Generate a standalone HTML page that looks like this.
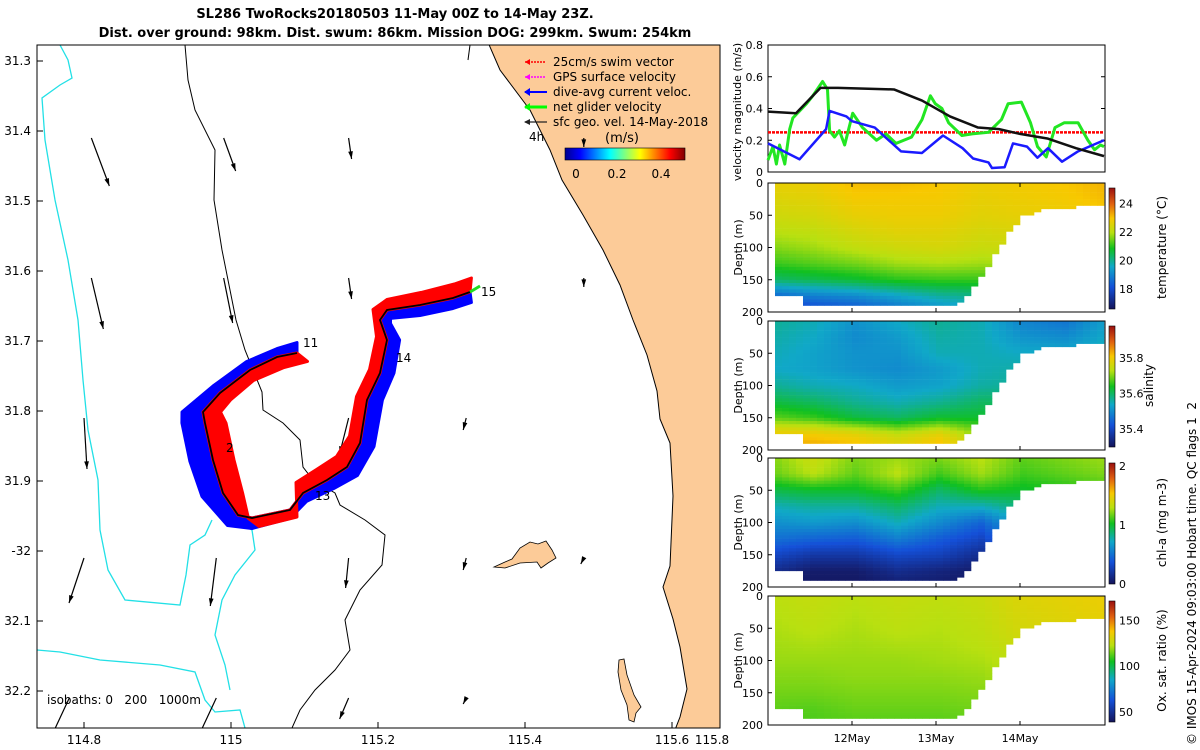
<!DOCTYPE html>
<html><head><meta charset="utf-8"><title>SL286 TwoRocks</title>
<style>
html,body{margin:0;padding:0;background:#fff;}
svg{display:block;font-family:"DejaVu Sans","Liberation Sans",sans-serif;}
</style></head>
<body>
<svg id="fig" width="1200" height="750" viewBox="0 0 1200 750" xmlns="http://www.w3.org/2000/svg">
<defs>
<linearGradient id="jetH" x1="0" x2="1" y1="0" y2="0">
<stop offset="0" stop-color="#00008f"/><stop offset="0.125" stop-color="#0000ff"/><stop offset="0.375" stop-color="#00ffff"/><stop offset="0.625" stop-color="#ffff00"/><stop offset="0.875" stop-color="#ff0000"/><stop offset="1" stop-color="#800000"/>
</linearGradient>
<linearGradient id="cmV" x1="0" x2="0" y1="1" y2="0">
<stop offset="0" stop-color="#14145a"/><stop offset="0.18" stop-color="#1450d8"/><stop offset="0.35" stop-color="#10a8c8"/><stop offset="0.5" stop-color="#10c020"/><stop offset="0.63" stop-color="#b8e010"/><stop offset="0.75" stop-color="#f8c800"/><stop offset="0.87" stop-color="#e06010"/><stop offset="1" stop-color="#9a1010"/>
</linearGradient>
<clipPath id="mapclip"><rect x="37" y="45" width="683" height="683"/></clipPath>
</defs>

<text x="395" y="18" text-anchor="middle" font-size="13" font-weight="bold">SL286 TwoRocks20180503 11-May 00Z to 14-May 23Z.</text>
<text x="395" y="37" text-anchor="middle" font-size="13" font-weight="bold">Dist. over ground: 98km. Dist. swum: 86km. Mission DOG: 299km. Swum: 254km</text>

<g id="map">
<g clip-path="url(#mapclip)">
<path fill="#fccb98" stroke="#000" stroke-width="1" d="M487,40 L500,70 L530,110 L550,150 L562,180 L583,215 L603,250 L620,285 L633,320 L647,355 L657,391 L660,419 L670,443 L673,496 L670,566 L663,587 L673,619 L680,647 L687,689 L680,717 L673,735 L730,735 L730,40 Z"/>
<path fill="#fccb98" stroke="#000" stroke-width="0.8" d="M494,567 L505,562 L512,559 L520,548 L530,542 L538,544 L546,541 L552,550 L556,558 L548,563 L541,568 L537,562 L520,563 L505,568 Z"/>
<path fill="#fccb98" stroke="#000" stroke-width="0.8" d="M619,660 L624,659 L627,675 L634,695 L641,707 L636,713 L634,722 L629,720 L627,705 L621,690 L618,672 Z"/>
<path fill="none" stroke="#22e0e6" stroke-width="1.3" d="M60,45 L68,60 L72,78 L60,85 L42,98 L45,140 L55,200 L68,260 L78,320 L83,380 L88,430 L98,480 L100,530 L108,570 L125,600 L180,605 L186,575 L190,545 L205,535 L212,520"/>
<path fill="none" stroke="#22e0e6" stroke-width="1.3" d="M37,650 L60,652 L100,660 L160,665 L195,672 L205,700 L215,712 L240,710 L245,728"/>
<path fill="none" stroke="#22e0e6" stroke-width="1.3" d="M238,522 L252,530 L255,550 L235,575 L222,600 L215,635 L225,665 L230,690"/>
<path fill="none" stroke="#000" stroke-width="1" d="M185,45 L188,80 L195,110 L215,150 L214,200 L222,250 L232,300 L236,320 L245,350 L262,392 L263,410 L283,423 L300,440 L303,467 L313,480 L335,493 L340,505 L365,520 L385,535 L382,565 L360,590 L345,620 L350,650 L335,670 L315,690 L300,710 L292,728"/>
<path fill="none" stroke="#000" stroke-width="1" d="M470,45 L468,60"/>
<g id="geoArrows"></g>
<g id="track"></g>
</g>
<rect x="37" y="45" width="683" height="683" fill="none" stroke="#000" stroke-width="1"/>
<g id="mapTicks" font-size="12"></g>
<text x="303" y="347" font-size="12">11</text>
<text x="396" y="362" font-size="12">14</text>
<text x="315" y="500" font-size="12">13</text>
<text x="481" y="296" font-size="12">15</text>
<text x="226" y="452" font-size="12">2</text>
<text x="529" y="141" font-size="12">4h</text>
<text x="47" y="704" font-size="12" xml:space="preserve">isobaths: 0   200   1000m</text>
<g id="mapLegend" font-size="12">
<line x1="545" y1="62" x2="525" y2="62" stroke="#f00" stroke-width="1.5" stroke-dasharray="2,1"/><path d="M525,62 l5,-3 v6z" fill="#f00"/>
<text x="553" y="66">25cm/s swim vector</text>
<line x1="545" y1="77" x2="525" y2="77" stroke="#f0f" stroke-width="1.5" stroke-dasharray="2,1"/><path d="M525,77 l5,-3 v6z" fill="#f0f"/>
<text x="553" y="81">GPS surface velocity</text>
<line x1="547" y1="92" x2="525" y2="92" stroke="#00f" stroke-width="2"/><path d="M524,92 l6,-4 v8z" fill="#00f"/>
<text x="553" y="96">dive-avg current veloc.</text>
<line x1="547" y1="107" x2="525" y2="107" stroke="#0f0" stroke-width="3"/><path d="M524,107 l6,-4 v8z" fill="#0f0"/>
<text x="553" y="111">net glider velocity</text>
<line x1="547" y1="122" x2="525" y2="122" stroke="#222" stroke-width="1.3"/><path d="M524,122 l6,-3 v6z" fill="#222"/>
<text x="553" y="126">sfc geo. vel. 14-May-2018</text>
<text x="605" y="142" font-size="13">(m/s)</text>
<rect x="565" y="148" width="120" height="12" fill="url(#jetH)" stroke="#000" stroke-width="0.6"/>
<text x="576" y="178" text-anchor="middle">0</text>
<text x="617" y="178" text-anchor="middle">0.2</text>
<text x="661" y="178" text-anchor="middle">0.4</text>
</g>
</g>

<g id="velPanel">
<rect x="768" y="45" width="337" height="127" fill="#fff" stroke="#000" stroke-width="1"/>
<g id="velTicks" font-size="11"></g>
<g id="velLines"></g>
<text transform="translate(741,112) rotate(-90)" text-anchor="middle" font-size="11">velocity magnitude (m/s)</text>
</g>

<g id="sections"></g>

<text transform="translate(1196,745) rotate(-90)" font-size="12" xml:space="preserve">© IMOS 15-Apr-2024 09:03:00 Hobart time. QC flags 1  2</text>
</svg>

<script>
// ---------- velocity data ----------
const blackT = [0,8,15,20,36,44,52,60,66,72,80,88,96];
const blackV = [0.38,0.37,0.53,0.53,0.52,0.45,0.35,0.28,0.27,0.24,0.21,0.15,0.10];
const blueT = [0,9,16.6,17.6,22.4,24,30.5,38,44,50,55.6,58.6,63,64,67.6,70,74,77,80,84,88.6,96];
const blueV = [0.18,0.08,0.27,0.385,0.35,0.32,0.28,0.13,0.12,0.23,0.15,0.085,0.06,0.025,0.03,0.18,0.16,0.09,0.15,0.065,0.13,0.20];
const greenT = [0,1.4,2.4,3.3,4.8,6.2,7.1,11,12.8,15.6,17,17.6,19,20.4,21.9,24.2,27,31,33.7,36.6,41,44,46.4,47.8,49.7,51.6,55.4,58.3,63,66.7,68.6,72.4,75,77,79.5,82,84.6,88.6,91.4,93.3,95,96];
const greenV = [0.075,0.16,0.05,0.17,0.05,0.27,0.34,0.43,0.48,0.57,0.52,0.26,0.22,0.26,0.17,0.37,0.28,0.2,0.24,0.18,0.22,0.33,0.48,0.43,0.40,0.31,0.23,0.24,0.25,0.33,0.43,0.44,0.31,0.16,0.095,0.28,0.31,0.31,0.2,0.14,0.17,0.16];
const redT = [0,96];
const redV = [0.25,0.25];
const velTicks = [0,0.2,0.4,0.6,0.8];
const dateTicks = ["12May","13May","14May"];
const dateTickHours = [24,48,72];

// ---------- section data (rows=depth, cols=time) ----------
const secTimes = [0,12,24,36,48,60,72,84,96];
const secDepths = [0,25,50,75,100,125,150,175,200];
const bottomT = [0,8,10,52,56,60,64,68,72,78,96];
const bottomD = [175,175,190,190,175,145,110,75,50,38,32];
const tempGrid = [
[22.7,22.8,23.1,23.1,23.0,22.8,22.9,23.0,23.2],
[22.5,22.6,22.9,22.9,22.9,22.7,22.8,22.9,23.1],
[22.3,22.4,22.7,22.8,22.8,22.6,22.7,22.8,22.9],
[22.0,22.1,22.4,22.6,22.6,22.4,22.5,22.6,22.7],
[21.6,21.8,22.1,22.3,22.4,22.2,22.3,22.4,22.5],
[21.1,21.3,21.5,21.8,21.9,21.8,21.9,22.0,22.1],
[20.3,20.5,20.7,21.0,21.1,21.1,21.3,21.5,21.6],
[18.5,18.9,19.1,19.5,19.9,20.1,20.5,20.8,20.9],
[17.2,17.8,18.0,18.5,19.0,19.5,20.0,20.4,20.6]];
const salGrid = [
[35.57,35.55,35.51,35.54,35.57,35.55,35.49,35.47,35.53],
[35.56,35.54,35.50,35.52,35.56,35.55,35.51,35.50,35.54],
[35.55,35.53,35.51,35.51,35.55,35.55,35.54,35.54,35.56],
[35.54,35.53,35.51,35.50,35.52,35.55,35.56,35.56,35.57],
[35.57,35.55,35.54,35.52,35.53,35.56,35.57,35.57,35.58],
[35.62,35.60,35.57,35.55,35.57,35.60,35.60,35.60,35.60],
[35.68,35.66,35.62,35.60,35.63,35.63,35.62,35.62,35.62],
[35.80,35.80,35.78,35.74,35.78,35.70,35.67,35.67,35.67],
[35.85,35.85,35.84,35.81,35.84,35.76,35.73,35.73,35.73]];
const chlGrid = [
[1.2,1.35,1.2,1.25,1.2,1.3,1.15,1.2,1.25],
[1.15,1.3,1.15,1.3,1.1,1.25,1.1,1.15,1.2],
[0.95,1.0,1.0,1.1,0.9,1.05,1.0,1.05,1.1],
[0.75,0.8,0.8,0.9,0.75,0.75,0.88,0.92,0.95],
[0.62,0.66,0.62,0.75,0.6,0.45,0.75,0.82,0.85],
[0.5,0.45,0.42,0.55,0.42,0.3,0.65,0.72,0.75],
[0.32,0.22,0.22,0.32,0.28,0.15,0.5,0.6,0.65],
[0.15,0.05,0.05,0.15,0.1,0.05,0.4,0.5,0.55],
[0.05,0.02,0.02,0.05,0.05,0.02,0.3,0.4,0.45]];
const oxGrid = [
[123,125,123,125,124,126,131,133,135],
[122,124,122,124,123,125,130,132,134],
[121,123,121,123,122,124,129,131,133],
[120,121,120,121,121,123,127,129,131],
[119,119,119,119,120,121,125,127,129],
[117,117,118,118,118,119,123,125,127],
[115,115,116,116,116,117,121,123,125],
[113,112,114,114,114,115,119,121,123],
[111,111,112,112,112,113,117,119,121]];
const panelNames = ["temperature","salinity","chl-a","oxygen"];
const panelLabels = ["temperature (°C)","salinity","chl-a (mg m-3)","Ox. sat. ratio (%)"];
const panelRanges = [[16.6,25.1],[35.3,35.98],[0,2.05],[39,171]];
const panelCbTicks = [[18,20,22,24],[35.4,35.6,35.8],[0,1,2],[50,100,150]];
const depthTicks = [0,50,100,150,200];

// ---------- map data ----------
const trackLon = [115.0898,115.0626,115.0259,114.9850,114.9619,114.9646,114.9755,114.9891,115.0095,115.0286,115.0803,115.0980,115.1306,115.1578,115.1755,115.1850,115.2027,115.2122,115.2027,115.2122,115.2571,115.3020,115.3252];
const trackLat = [31.7171,31.7229,31.7414,31.7743,31.8014,31.8171,31.8700,31.9171,31.9486,31.9529,31.9414,31.9171,31.8986,31.8800,31.8457,31.7843,31.7457,31.6986,31.6700,31.6557,31.6486,31.6386,31.6300];
const curU = [0,0,-0.05,-0.1,-0.3,-0.33,-0.33,-0.3,-0.15,0,0,0.05,0.1,0.15,0.2,0.22,0.2,0.18,0.15,0.05,0,0,0.02];
const curV = [0.15,0.12,0.12,0.1,0,0,-0.02,-0.05,-0.15,-0.15,-0.12,-0.12,-0.12,-0.12,-0.05,0,0,0,-0.05,-0.12,-0.15,-0.15,-0.15];
const swimU = [0.15,0.1,0.05,0.15,0.25,0.3,0.3,0.28,0.15,0.1,0.1,-0.1,-0.15,-0.15,-0.15,-0.15,-0.15,-0.15,-0.1,0,0.02,0.02,0.02];
const swimV = [-0.12,-0.15,-0.15,-0.1,0,0,0,0,-0.05,-0.12,-0.1,0.15,0.15,0.15,0.1,0.05,0.05,0.05,0.15,0.15,0.18,0.2,0.2];
const geoLon = [114.81,114.99,115.16,114.81,114.99,115.16,114.80,114.99,115.16,115.32,114.80,114.98,115.16,115.32,114.78,114.98,115.16,115.32,115.48,115.48,115.48];
const geoLat = [31.41,31.41,31.41,31.61,31.61,31.61,31.81,31.81,31.81,31.81,32.01,32.01,32.01,32.01,32.21,32.21,32.21,32.21,31.41,31.61,32.01];
const geoU = [0.06,0.04,0.01,0.04,0.03,0.01,0.01,0.01,-0.03,-0.01,-0.05,-0.02,-0.01,-0.01,-0.07,-0.07,-0.03,-0.01,0,0,-0.01];
const geoV = [-0.16,-0.11,-0.07,-0.17,-0.15,-0.07,-0.17,-0.12,-0.12,-0.04,-0.15,-0.16,-0.1,-0.04,-0.15,-0.15,-0.07,-0.02,-0.03,-0.03,-0.02];
const lonTicks = [114.8,115,115.2,115.4,115.6];
const lonTickLabels = ["114.8","115","115.2","115.4","115.6"];
const latTicks = [31.3,31.4,31.5,31.6,31.7,31.8,31.9,32.0,32.1,32.2];
const latTickLabels = ["31.3","31.4","31.5","31.6","31.7","31.8","31.9","-32","32.1","32.2"];

// ---------- helpers ----------
const NS = "http://www.w3.org/2000/svg";
function mk(tag, attrs, parent){ const e=document.createElementNS(NS,tag); for(const k in attrs) e.setAttribute(k,attrs[k]); if(parent) parent.appendChild(e); return e; }
const CM = [[0,[20,20,90]],[0.18,[20,80,216]],[0.35,[16,168,200]],[0.5,[16,192,32]],[0.63,[184,224,16]],[0.75,[248,200,0]],[0.87,[224,96,16]],[1,[154,16,16]]];
function cmap(f){ f=Math.max(0,Math.min(1,f));
  for(let i=1;i<CM.length;i++){ if(f<=CM[i][0]){ const a=CM[i-1],b=CM[i],u=(f-a[0])/(b[0]-a[0]);
    return "rgb("+[0,1,2].map(k=>Math.round(a[1][k]+u*(b[1][k]-a[1][k]))).join(",")+")"; } }
  return "rgb(154,16,16)"; }
function interp1(xs, ys, x){ if(x<=xs[0]) return ys[0]; for(let i=1;i<xs.length;i++){ if(x<=xs[i]){ const f=(x-xs[i-1])/(xs[i]-xs[i-1]); return ys[i-1]+f*(ys[i]-ys[i-1]); } } return ys[ys.length-1]; }
function interp2(grid, t, d){ const row = secDepths.map((_,i)=>interp1(secTimes, grid[i], t)); return interp1(secDepths, row, d); }

// velocity axes
const vx = t => 768 + t*3.5;
const vy = v => 172 - v/0.8*127;
const velTicksG = document.getElementById('velTicks');
velTicks.forEach(v=>{
  const t = mk('text',{x:763,y:vy(v)+4,'text-anchor':'end'},velTicksG);
  t.textContent = String(v);
  
  
  mk('line',{x1:768,x2:772,y1:vy(v),y2:vy(v),stroke:'#000'},velTicksG);
  mk('line',{x1:1101,x2:1105,y1:vy(v),y2:vy(v),stroke:'#000'},velTicksG);
});
const velLines = document.getElementById('velLines');
function vline(T,V,color,w,name,dash){
  const p = mk('polyline',{points:T.map((t,i)=>vx(t)+","+vy(V[i])).join(" "),fill:'none',stroke:color,'stroke-width':w,'stroke-linejoin':'round'},velLines);
  if(dash) p.setAttribute('stroke-dasharray',dash);
  
  
}
vline(redT,redV,'#f00',2.5,'swim-speed-line','3,1');
vline(greenT,greenV,'#22e622',3,'net-glider-speed-line');
vline(blueT,blueV,'#1a1aff',2.5,'dive-avg-current-line');
vline(blackT,blackV,'#111',2.5,'geostrophic-speed-line');

// sections
const sections = document.getElementById('sections');
const panelTops = [183,321,458,596];
const grids = [tempGrid,salGrid,chlGrid,oxGrid];
const PH = 129;
panelNames.forEach((nm,pi)=>{
  const top = panelTops[pi];
  const g = mk('g',{},sections);
  
  
  const dy = d => top + d/200*PH;
  const [lo,hi] = panelRanges[pi];
  for(let t=2; t<96; t+=2){
    const maxD = interp1(bottomT, bottomD, t);
    for(let d=0; d<maxD; d+=5){
      const val = interp2(grids[pi], t, d+2.5);
      const c = mk('rect',{x:vx(t).toFixed(1),y:dy(d).toFixed(1),width:7.3,height:(5/200*PH+0.3).toFixed(2),fill:cmap((val-lo)/(hi-lo))},g);
      
      
    }
  }
  mk('rect',{x:768,y:top,width:337,height:PH,fill:'none',stroke:'#000','stroke-width':1},g);
  depthTicks.forEach(d=>{
    const tx = mk('text',{x:763,y:dy(d)+4,'text-anchor':'end','font-size':11},g);
    tx.textContent = String(d);
    
    
    mk('line',{x1:768,x2:772,y1:dy(d),y2:dy(d),stroke:'#000'},g);
  });
  dateTickHours.forEach(h=>{ mk('line',{x1:vx(h),x2:vx(h),y1:top+PH,y2:top+PH-4,stroke:'#000'},g); mk('line',{x1:vx(h),x2:vx(h),y1:top,y2:top+4,stroke:'#000'},g); });
  const yl = mk('text',{transform:`translate(742,${top+PH/2}) rotate(-90)`,'text-anchor':'middle','font-size':11},g);
  yl.textContent = 'Depth (m)';
  
  
  // colorbar
  const cb = mk('rect',{x:1109,y:top+5,width:6,height:PH-8,fill:'url(#cmV)',stroke:'#000','stroke-width':0.6},g);
  
  
  const cy = v => top+PH-3 - (v-lo)/(hi-lo)*(PH-8);
  panelCbTicks[pi].forEach(v=>{
    const tx = mk('text',{x:1119,y:cy(v)+4,'font-size':11},g);
    tx.textContent = String(v);
    
    
  });
  const cl = mk('text',{transform:`translate(${pi==1?1153:1166},${top+PH/2}) rotate(-90)`,'text-anchor':'middle','font-size':12},g);
  cl.textContent = panelLabels[pi];
  
  
});
dateTicks.forEach((lab,i)=>{
  const t = mk('text',{x:vx(dateTickHours[i]),y:742,'text-anchor':'middle','font-size':11},sections);
  t.textContent = lab;
  
  
});

// map axes
const mx = lon => 231 + (lon-115)*735;
const my = lat => 61 + (lat-31.3)*700;
const mt = document.getElementById('mapTicks');
lonTicks.forEach((l,i)=>{
  mk('line',{x1:mx(l),x2:mx(l),y1:728,y2:722,stroke:'#000'},mt);
  const t = mk('text',{x:mx(l),y:744,'text-anchor':'middle'},mt);
  t.textContent = lonTickLabels[i];
  
  
});
{ const t = mk('text',{x:712,y:744,'text-anchor':'middle'},mt); t.textContent='115.8';
  
   }
latTicks.forEach((l,i)=>{
  mk('line',{x1:37,x2:43,y1:my(l),y2:my(l),stroke:'#000'},mt);
  const t = mk('text',{x:31,y:my(l)+4,'text-anchor':'end'},mt);
  t.textContent = latTickLabels[i];
  
  
});

// geostrophic arrows
const ga = document.getElementById('geoArrows');
const GS = 300;
geoLon.forEach((lon,i)=>{
  const x0=mx(lon), y0=my(geoLat[i]), x1=x0+geoU[i]*GS, y1=y0-geoV[i]*GS;
  const a = Math.atan2(y1-y0,x1-x0), h=8;
  const g = mk('g',{},ga);
  
  
  mk('line',{x1:x0,y1:y0,x2:x1,y2:y1,stroke:'#000','stroke-width':1.2},g);
  mk('path',{d:`M${x1},${y1} L${x1-h*Math.cos(a-0.3)},${y1-h*Math.sin(a-0.3)} L${x1-h*Math.cos(a+0.3)},${y1-h*Math.sin(a+0.3)} Z`,fill:'#000'},g);
});

// track
const tr = document.getElementById('track');
const VS = 70;
function band(U,V,color,name){
  const pts = trackLon.map((l,i)=>[mx(l),my(trackLat[i])]);
  const off = pts.map((p,i)=>[p[0]+U[i]*VS, p[1]-V[i]*VS]);
  const all = pts.concat(off.slice().reverse());
  const p = mk('polygon',{points:all.map(q=>q[0].toFixed(1)+","+q[1].toFixed(1)).join(" "),fill:color,stroke:color,'stroke-width':3,'stroke-linejoin':'round'},tr);
  
  
}
band(curU,curV,'#0000ff','dive-avg-current-band');
band(swimU,swimV,'#ff0000','swim-vector-band');
const tl = mk('polyline',{points:trackLon.map((l,i)=>mx(l)+","+my(trackLat[i])).join(" "),fill:'none',stroke:'#000','stroke-width':1.8},tr);


const nl = trackLon.length-1;
const gl = mk('line',{x1:mx(trackLon[nl]),y1:my(trackLat[nl]),x2:mx(trackLon[nl])+10,y2:my(trackLat[nl])-6,stroke:'#2d2',"stroke-width":3},tr);


</script>
</body></html>
